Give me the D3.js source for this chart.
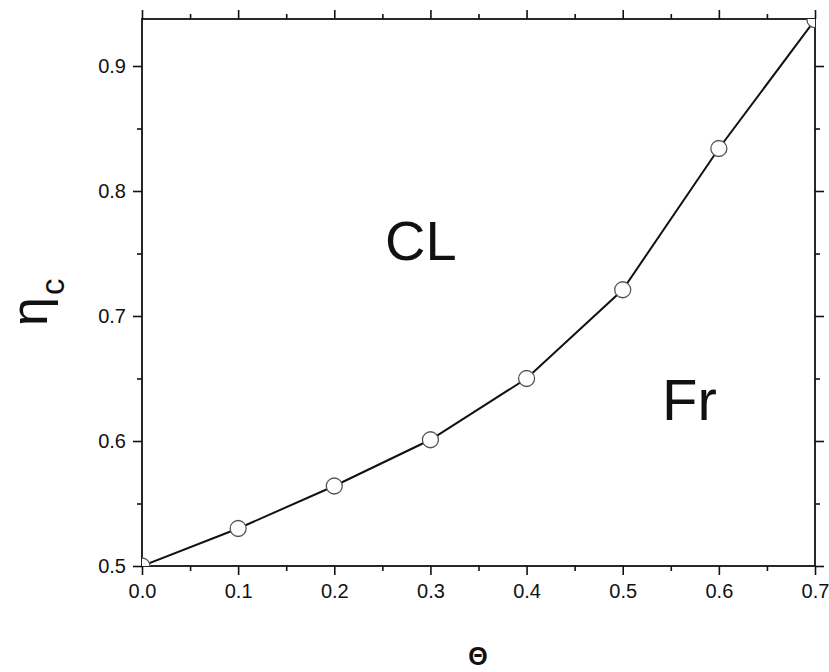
<!DOCTYPE html>
<html>
<head>
<meta charset="utf-8">
<script src="https://cdn.jsdelivr.net/npm/d3@7"></script>
<style>
  html, body { margin: 0; padding: 0; background: #fff; }
  svg { display: block; }
  text { font-family: "Liberation Sans", Arial, sans-serif; fill: #111; }
</style>
</head>
<body>
<svg id="chart" width="829" height="672"></svg>
<script>
// Phase boundary data: critical packing fraction vs. theta
const theta = [0.0, 0.1, 0.2, 0.3, 0.4, 0.5, 0.6, 0.7];
const etaC  = [0.500, 0.530, 0.564, 0.601, 0.650, 0.721, 0.834, 0.937];
const xTicks = [0.0, 0.1, 0.2, 0.3, 0.4, 0.5, 0.6, 0.7];
const yTicks = [0.5, 0.6, 0.7, 0.8, 0.9];
const regionLabels = ["CL", "Fr"];

const svg = d3.select("#chart");
const margin = { left: 142, top: 19, right: 14, bottom: 106 };
const W = 829, H = 672;
const iw = W - margin.left - margin.right;
const ih = H - margin.top - margin.bottom;

const x = d3.scaleLinear().domain([0, 0.7]).range([0, iw]);
const y = d3.scaleLinear().domain([0.5, 0.9376]).range([ih, 0]);

const g = svg.append("g").attr("transform", `translate(${margin.left},${margin.top})`);

g.append("clipPath").attr("id", "plotClip")
  .append("rect").attr("width", iw).attr("height", ih);

// minor tick positions (every 0.05)
const xMinor = d3.range(0.05, 0.7, 0.1);
const yMinor = d3.range(0.55, 0.93, 0.1);

function styleAxis(sel) {
  sel.select(".domain").remove();
  sel.selectAll("line").attr("stroke", "#111").attr("stroke-width", 1.6);
  sel.selectAll("text").attr("font-size", 20);
}

// major ticks on all four sides, labels on bottom and left
const fmt = d3.format(".1f");
g.append("g").attr("transform", `translate(0,${ih})`)
  .call(d3.axisBottom(x).tickValues(xTicks).tickFormat(fmt).tickSize(9).tickPadding(9))
  .call(styleAxis);
g.append("g").attr("transform", `translate(0,${ih})`)
  .call(d3.axisBottom(x).tickValues(xMinor).tickFormat("").tickSize(5))
  .call(styleAxis);
g.append("g")
  .call(d3.axisLeft(y).tickValues(yTicks).tickFormat(fmt).tickSize(9).tickPadding(7))
  .call(styleAxis);
g.append("g")
  .call(d3.axisLeft(y).tickValues(yMinor).tickFormat("").tickSize(5))
  .call(styleAxis);
g.append("g")
  .call(d3.axisTop(x).tickValues(xTicks).tickFormat("").tickSize(9))
  .call(styleAxis);
g.append("g")
  .call(d3.axisTop(x).tickValues(xMinor).tickFormat("").tickSize(5))
  .call(styleAxis);
g.append("g").attr("transform", `translate(${iw},0)`)
  .call(d3.axisRight(y).tickValues(yTicks).tickFormat("").tickSize(9))
  .call(styleAxis);
g.append("g").attr("transform", `translate(${iw},0)`)
  .call(d3.axisRight(y).tickValues(yMinor).tickFormat("").tickSize(5))
  .call(styleAxis);

// frame
g.append("rect").attr("width", iw).attr("height", ih)
  .attr("fill", "none").attr("stroke", "#111").attr("stroke-width", 1.8);

// boundary curve and markers
const pts = theta.map((t, i) => [t, etaC[i]]);
const plot = g.append("g").attr("clip-path", "url(#plotClip)");
plot.append("path")
  .datum(pts)
  .attr("fill", "none")
  .attr("stroke", "#111")
  .attr("stroke-width", 2)
  .attr("d", d3.line().x(d => x(d[0])).y(d => y(d[1])));
plot.selectAll("circle").data(pts).join("circle")
  .attr("cx", d => x(d[0])).attr("cy", d => y(d[1]))
  .attr("r", 8)
  .attr("fill", "#fff")
  .attr("stroke", "#555")
  .attr("stroke-width", 1.3);

// region labels
svg.append("text").attr("x", 385).attr("y", 260)
  .attr("font-size", 56).text(regionLabels[0]);
svg.append("text").attr("x", 662).attr("y", 420)
  .attr("font-size", 58).text(regionLabels[1]);

// axis titles
const yl = svg.append("text")
  .attr("transform", "translate(47,326) rotate(-90)")
  .attr("font-size", 52);
yl.append("tspan").text("η");
yl.append("tspan").attr("font-size", 33).attr("dy", 17).attr("dx", 2).text("c");

svg.append("text").attr("x", 478).attr("y", 665)
  .attr("text-anchor", "middle")
  .attr("font-size", 25).attr("font-weight", "bold")
  .text("Θ");
</script>
</body>
</html>
